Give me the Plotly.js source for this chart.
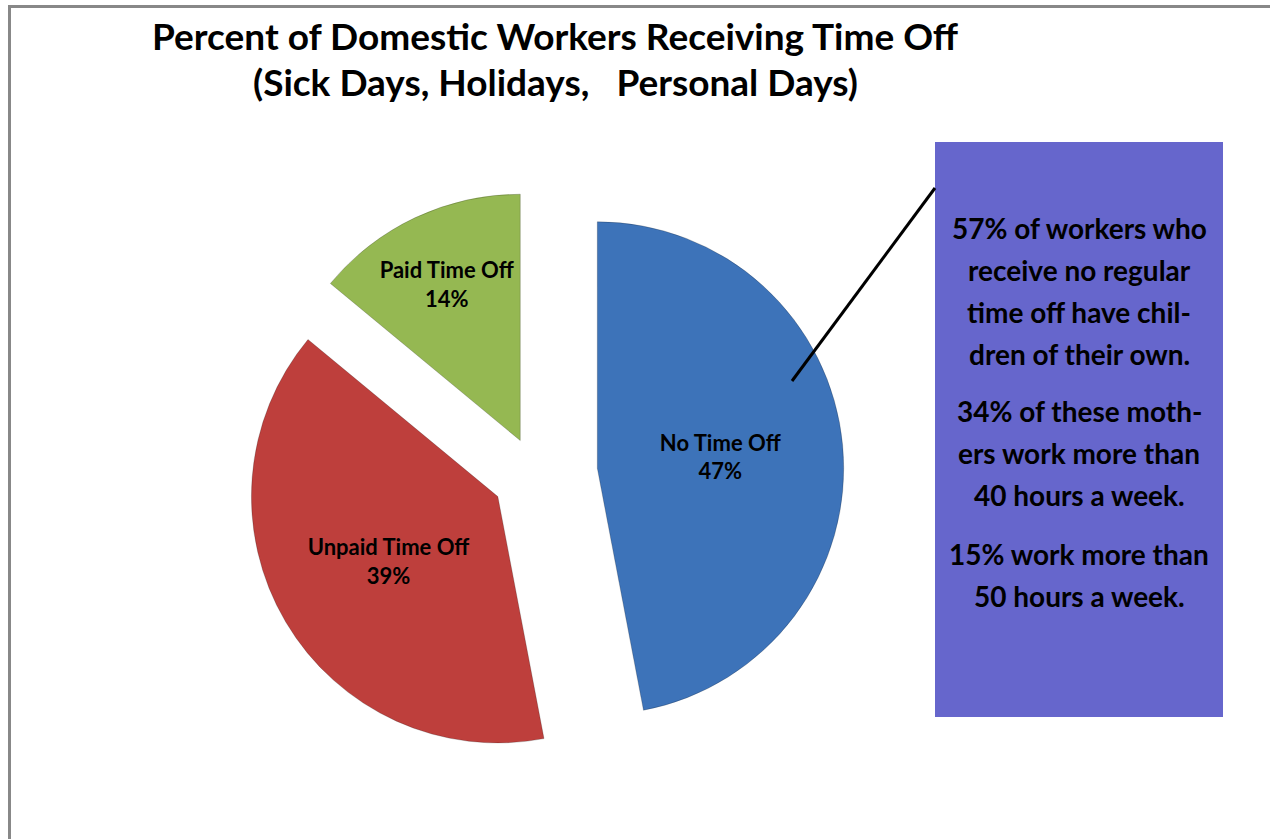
<!DOCTYPE html>
<html>
<head>
<meta charset="utf-8">
<script src="https://cdn.plot.ly/plotly-3.0.1.min.js"></script>
<style>html,body{margin:0;padding:0;background:#fff;}#chart{width:1270px;height:839px;}</style>
</head>
<body>
<div id="chart"></div>
<script>
const categories = ["No Time Off", "Unpaid Time Off", "Paid Time Off"];
const values = [47, 39, 14];
const sliceColors = ["#3D73B9", "#BE3F3C", "#95B852"];
const pulls = [0.25, 0.18, 0.15];
const titleLines = ["Percent of Domestic Workers Receiving Time Off", "(Sick Days, Holidays,   Personal Days)"];
const noteParagraphs = [
  ["57% of workers who", "receive no regular", "time off have chil-", "dren of their own."],
  ["34% of these moth-", "ers work more than", "40 hours a week."],
  ["15% work more than", "50 hours a week."]
];

const W = 1270, H = 839;
const px = x => x / W;
const py = y => 1 - y / H;
const FONT = "Lato, 'Open Sans', sans-serif";

const trace = {
  type: "pie",
  labels: categories,
  values: values,
  sort: false,
  direction: "clockwise",
  rotation: 0,
  pull: pulls,
  marker: {colors: sliceColors, line: {color: "rgba(0,0,0,0.2)", width: 1}},
  texttemplate: "<b>%{label}</b><br><b>%{percent:.0%}</b>",
  textposition: "inside",
  insidetextorientation: "horizontal",
  textfont: {family: FONT, size: 22, color: "#000"},
  hoverinfo: "label+percent",
  showlegend: false,
  domain: {x: [px(228), px(844)], y: [py(782), py(166)]}
};

const annotations = [];
titleLines.forEach((t, i) => annotations.push({
  xref: "paper", yref: "paper", x: px(555), y: py(36 + i * 45),
  xanchor: "center", yanchor: "middle", showarrow: false,
  text: "<b>" + t + "</b>",
  font: {family: FONT, size: 37, color: "#000"}
}));
const noteStarts = [228, 411, 554];
noteParagraphs.forEach((lines, i) => lines.forEach((l, j) => annotations.push({
  xref: "paper", yref: "paper",
  x: px(1079), y: py(noteStarts[i] + j * 42),
  xanchor: "center", yanchor: "middle",
  showarrow: false,
  text: "<b>" + l + "</b>",
  font: {family: FONT, size: 28, color: "#000"}
})));

const layout = {
  width: W, height: H,
  margin: {l: 0, r: 0, t: 0, b: 0},
  paper_bgcolor: "#fff",
  shapes: [
    {type: "line", xref: "paper", yref: "paper", x0: px(8), x1: 1, y0: py(6.5), y1: py(6.5), line: {color: "#888", width: 3}},
    {type: "line", xref: "paper", yref: "paper", x0: px(9.5), x1: px(9.5), y0: py(5), y1: 0, line: {color: "#888", width: 3}},
    {type: "rect", xref: "paper", yref: "paper", x0: px(935), x1: px(1223), y0: py(142), y1: py(717), fillcolor: "#6666CC", line: {width: 0}, layer: "below"},
    {type: "line", xref: "paper", yref: "paper", x0: px(935), y0: py(188), x1: px(792), y1: py(381), line: {color: "#000", width: 3}}
  ],
  annotations: annotations
};

Plotly.newPlot("chart", [trace], layout, {displayModeBar: false, staticPlot: true});
</script>
</body>
</html>
